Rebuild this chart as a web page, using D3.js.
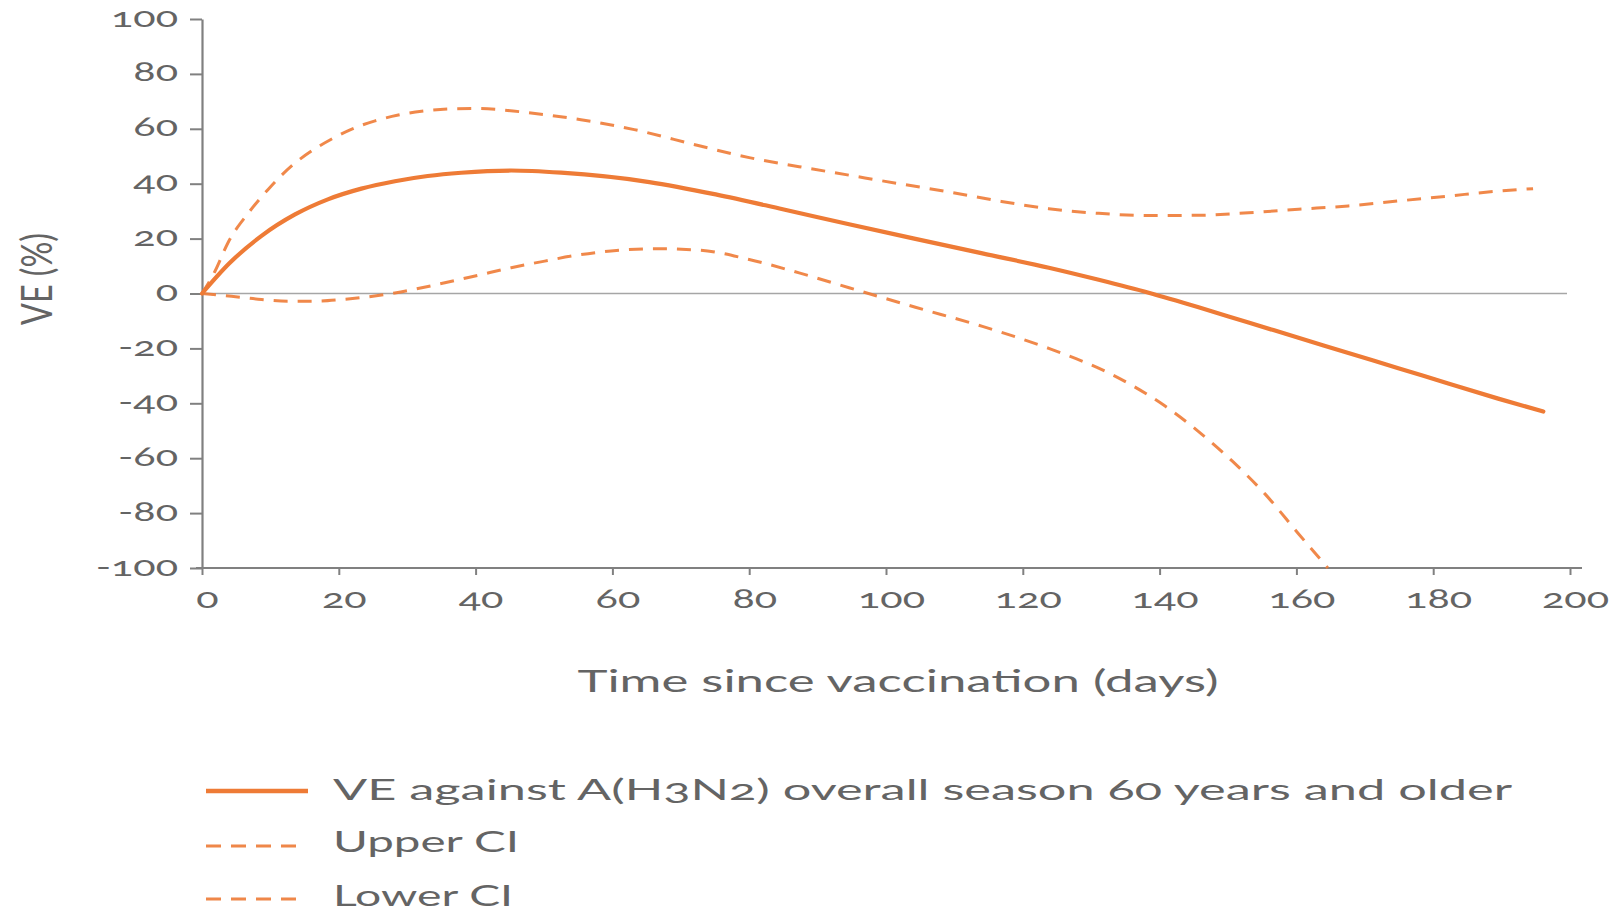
<!DOCTYPE html>
<html>
<head>
<meta charset="utf-8">
<script src="https://cdn.jsdelivr.net/npm/d3@7/dist/d3.min.js"></script>
<style>
  html, body { margin: 0; padding: 0; background: #ffffff; }
  svg { display: block; }
  text { font-family: Lato, "Open Sans", "DejaVu Sans", sans-serif; fill: #646464;
         font-variant-numeric: oldstyle-nums; font-feature-settings: "onum" 1; }
</style>
</head>
<body>
<svg id="chart" width="1620" height="912"></svg>
<script>
// ---------------- data ----------------
const xTicks = [0, 20, 40, 60, 80, 100, 120, 140, 160, 180, 200];
const yTicks = [100, 80, 60, 40, 20, 0, -20, -40, -60, -80, -100];

const veDays   = [0, 4, 8.7, 13.6, 18.4, 23.3, 28.2, 33, 37.9, 45.2, 52.5, 65.4, 75.1, 84.9, 94.6, 104.3, 114.1, 123.8, 131.1, 138.4, 145.7, 153, 160.3, 167.6, 174.9, 182.2, 189.5, 196.1];
const veValues = [0, 11, 21, 28.8, 34.3, 38.2, 40.9, 42.8, 44.0, 44.8, 44.0, 40.6, 36.1, 30.7, 25.2, 19.9, 14.6, 9.4, 5.0, 0.3, -5.0, -10.6, -16.1, -21.7, -27.2, -32.8, -38.3, -43.0];

const upperDays   = [0, 1.9, 3.8, 6.8, 9.7, 13.1, 16, 18.9, 21.9, 25.3, 28.7, 32.1, 36, 39.9, 43.8, 47.6, 55.4, 63.2, 72.7, 80, 87.3, 94.6, 101.9, 109.2, 116.5, 123.8, 131.1, 138.4, 145.7, 153, 160.3, 167.6, 174.9, 182.2, 189.5, 194.6];
const upperValues = [0, 8.1, 18.5, 29.4, 38, 46.5, 51.9, 56.2, 59.9, 62.9, 65.0, 66.4, 67.2, 67.4, 66.9, 65.9, 63.3, 59.7, 53.8, 49.5, 46.2, 43.1, 40.0, 37.0, 33.7, 30.9, 29.2, 28.4, 28.5, 29.4, 30.7, 31.9, 33.7, 35.5, 37.3, 38.2];

const lowerDays   = [0, 4.3, 8.7, 12.6, 16.5, 20.4, 24.3, 28.2, 35.5, 40.3, 45.2, 50.1, 54.9, 59.8, 66.1, 72.7, 80, 87.3, 94.6, 104.3, 114.1, 123.8, 132.6, 136, 140.8, 145.7, 150.6, 155.4, 160.3, 164.6];
const lowerValues = [0, -1.0, -2.2, -2.8, -2.8, -2.2, -1.2, 0.2, 3.9, 6.6, 9.4, 11.8, 14.0, 15.5, 16.3, 15.8, 12.4, 7.5, 2.1, -5.0, -12.0, -20.0, -29.0, -33.5, -41.0, -50.3, -61.0, -73.0, -87.5, -100];

const legendLabels = ["VE against A(H3N2) overall season 60 years and older", "Upper CI", "Lower CI"];
const xTitle = "Time since vaccination (days)";
const yTitle = "VE (%)";

// ---------------- layout / style ----------------
const orange = "#ee7b36";
const axisGrey = "#808080";
const svg = d3.select("#chart");

const x = d3.scaleLinear().domain([0, 200]).range([202, 1570]);
const y = d3.scaleLinear().domain([-100, 100]).range([568, 19]);

function stretchTo(sel, w) {
  sel.attr("textLength", w).attr("lengthAdjust", "spacingAndGlyphs");
}

// zero line
svg.append("line")
  .attr("x1", x(0)).attr("x2", 1567)
  .attr("y1", y(0)).attr("y2", y(0))
  .attr("stroke", "#a6a6a6").attr("stroke-width", 1.6);

// y axis
const yAxis = svg.append("g")
  .attr("transform", `translate(${x(0)},0)`)
  .call(d3.axisLeft(y).tickValues(yTicks).tickSize(12).tickSizeOuter(0).tickPadding(24)
        .tickFormat(d => d < 0 ? "-" + Math.abs(d) : String(d)));
yAxis.select(".domain").attr("stroke", axisGrey).attr("stroke-width", 2.2);
yAxis.selectAll(".tick line").attr("stroke", axisGrey).attr("stroke-width", 2);
yAxis.selectAll(".tick text")
  .attr("font-size", 26).attr("dy", "0.27em").attr("x", -24);

// x axis
const xAxis = svg.append("g")
  .attr("transform", `translate(0,${y(-100)})`)
  .call(d3.axisBottom(x).tickValues(xTicks).tickSize(7).tickSizeOuter(0).tickPadding(10));
xAxis.select(".domain").remove();
xAxis.append("line")
  .attr("x1", 196).attr("x2", 1582).attr("y1", 0).attr("y2", 0)
  .attr("stroke", axisGrey).attr("stroke-width", 2.2);
xAxis.selectAll(".tick line").attr("stroke", axisGrey).attr("stroke-width", 2);
xAxis.selectAll(".tick text")
  .attr("font-size", 26).attr("y", 40).attr("dy", 0).attr("dx", 5);

// stretch tick labels (the reference glyphs are wide)
const allTickText = svg.selectAll(".tick text");
let base100 = null;
allTickText.each(function () {
  if (this.textContent === "100" && base100 === null) base100 = this.getComputedTextLength();
});
const kTick = base100 ? 67 / base100 : 1.35;
allTickText.each(function () {
  const L = this.getComputedTextLength();
  d3.select(this).attr("textLength", L * kTick).attr("lengthAdjust", "spacingAndGlyphs");
});

// lines
const line = d3.line().x(d => x(d[0])).y(d => y(d[1])).curve(d3.curveMonotoneX);
const zip = (a, b) => a.map((v, i) => [v, b[i]]);

svg.append("path").datum(zip(upperDays, upperValues))
  .attr("d", line).attr("fill", "none").attr("stroke", orange)
  .attr("stroke-width", 3).attr("stroke-dasharray", "14,10").attr("opacity", 0.9);
svg.append("path").datum(zip(lowerDays, lowerValues))
  .attr("d", line).attr("fill", "none").attr("stroke", orange)
  .attr("stroke-width", 3).attr("stroke-dasharray", "14,10").attr("opacity", 0.9);
svg.append("path").datum(zip(veDays, veValues))
  .attr("d", line).attr("fill", "none").attr("stroke", orange)
  .attr("stroke-width", 4.2).attr("stroke-linecap", "round");

// axis titles
const xt = svg.append("text")
  .attr("x", 898).attr("y", 692).attr("text-anchor", "middle")
  .attr("font-size", 31).text(xTitle);
stretchTo(xt, 641);

const yt = svg.append("text")
  .attr("transform", "translate(52,279) scale(1.4,1) rotate(-90)")
  .attr("text-anchor", "middle").attr("font-size", 30).text(yTitle);
stretchTo(yt, 92);

// legend
const legendBase = [800, 852, 906];
const legendLineY = [791, 846, 899];
const legendWidths = [1179, 186, 180];
const legendDash = [null, "15,10", "15,10"];
legendLabels.forEach((lab, i) => {
  svg.append("line")
    .attr("x1", 206).attr("x2", i === 0 ? 308 : 296)
    .attr("y1", legendLineY[i]).attr("y2", legendLineY[i])
    .attr("stroke", orange)
    .attr("stroke-width", i === 0 ? 4.6 : 3)
    .attr("stroke-dasharray", legendDash[i])
    .attr("opacity", i === 0 ? 1 : 0.9);
  const t = svg.append("text").attr("x", 333).attr("y", legendBase[i])
    .attr("font-size", 29).text(lab);
  stretchTo(t, legendWidths[i]);
});
</script>
</body>
</html>
